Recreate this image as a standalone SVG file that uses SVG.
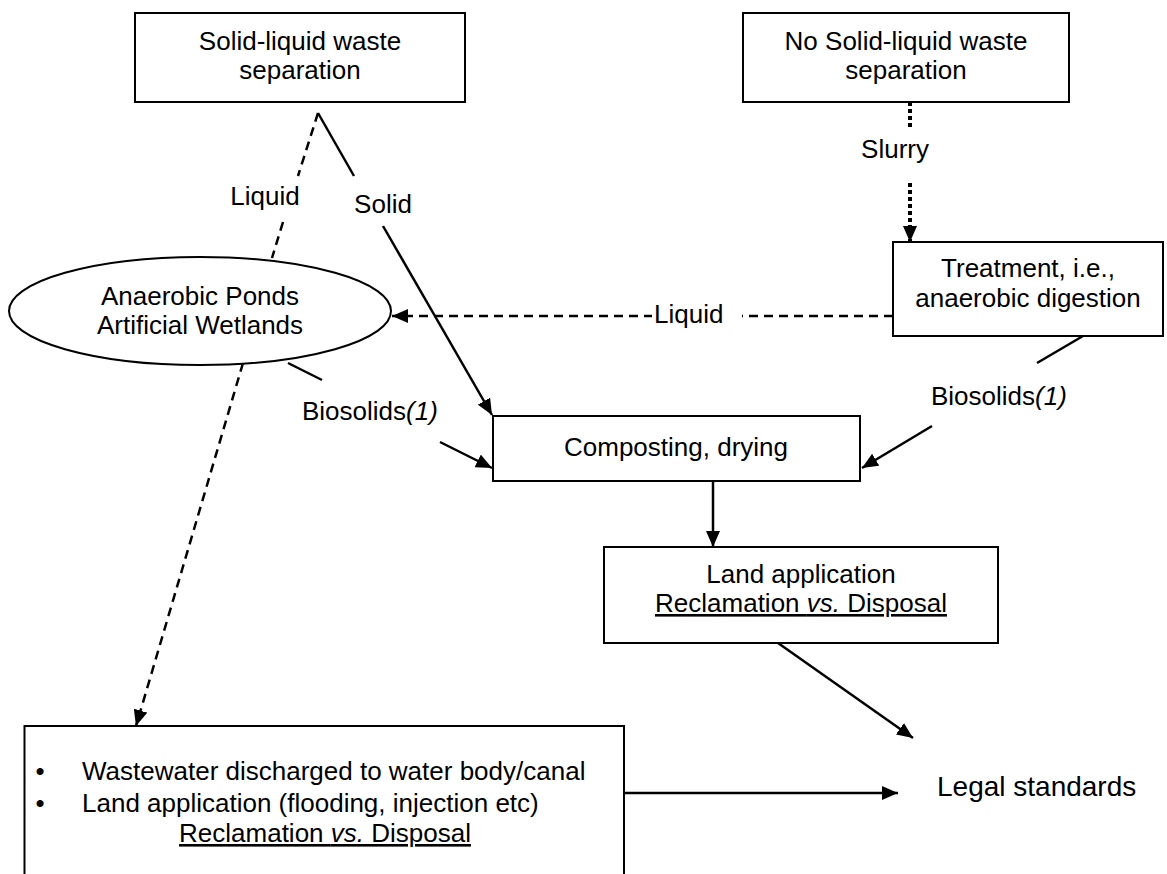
<svg xmlns="http://www.w3.org/2000/svg" width="1167" height="874" viewBox="0 0 1167 874">
<style>
text{font-family:"Liberation Sans",Arial,sans-serif;font-size:26px;fill:#000}
.c{text-anchor:middle}
.box{fill:#fff;stroke:#000;stroke-width:2}
.ln{fill:none;stroke:#000;stroke-width:2.5}
.dash{stroke-dasharray:9 6}
.dot{stroke-width:4;stroke-dasharray:4 3}
.u{text-decoration:underline}
</style>
<defs>
<marker id="ah" markerUnits="userSpaceOnUse" markerWidth="16" markerHeight="14" refX="16" refY="7" orient="auto" viewBox="0 0 16 14">
<path d="M0,0 L16,7 L0,14 z" fill="#000"/>
</marker>
</defs>
<rect width="1167" height="874" fill="#fff"/>
<g id="connectors">
<path class="ln dash" d="M318,113 L298,176 M283,222 L272,258"/>
<text x="265" y="205" class="c">Liquid</text>
<path class="ln" d="M318,113 L354,176"/>
<path class="ln" d="M383,226 L492,415" marker-end="url(#ah)"/>
<text x="383" y="213" class="c">Solid</text>
<path class="ln dot" d="M910,102 L910,128"/>
<text x="895" y="158" class="c">Slurry</text>
<path class="ln dot" d="M910,183 L910,242" marker-end="url(#ah)"/>
<path class="ln dash" d="M893,316 L392,316" marker-end="url(#ah)"/>
<rect x="652" y="298" width="90" height="34" fill="#fff"/>
<text x="654" y="323">Liquid</text>
<path class="ln" d="M288,363 L322,380"/>
<path class="ln" d="M440,442 L492,468" marker-end="url(#ah)"/>
<text x="302" y="420">Biosolids<tspan font-style="italic">(1)</tspan></text>
<path class="ln" d="M1083,336 L1037,363"/>
<path class="ln" d="M932,426 L862,468" marker-end="url(#ah)"/>
<text x="931" y="405">Biosolids<tspan font-style="italic">(1)</tspan></text>
<path class="ln dash" d="M243,363 L136,726" marker-end="url(#ah)"/>
<path class="ln" d="M713,481 L713,547" marker-end="url(#ah)"/>
<path class="ln" d="M778,643 L913,738" marker-end="url(#ah)"/>
<path class="ln" d="M624,793 L898,793" marker-end="url(#ah)"/>
</g>
<g id="node-separation">
<rect class="box" x="135" y="13" width="330" height="89"/>
<text x="300" y="50" class="c">Solid-liquid waste</text>
<text x="300" y="79" class="c">separation</text>
</g>
<g id="node-no-separation">
<rect class="box" x="743" y="13" width="326" height="89"/>
<text x="906" y="50" class="c">No Solid-liquid waste</text>
<text x="906" y="79" class="c">separation</text>
</g>
<g id="node-ponds">
<ellipse cx="200" cy="311" rx="191" ry="54" fill="#fff" stroke="#000" stroke-width="2"/>
<text x="200" y="305" class="c">Anaerobic Ponds</text>
<text x="200" y="334" class="c">Artificial Wetlands</text>
</g>
<g id="node-treatment">
<rect class="box" x="893" y="242" width="270" height="94"/>
<text x="1028" y="277" class="c">Treatment, i.e.,</text>
<text x="1028" y="307" class="c">anaerobic digestion</text>
</g>
<g id="node-composting">
<rect class="box" x="493" y="416" width="367" height="65"/>
<text x="676" y="456" class="c">Composting, drying</text>
</g>
<g id="node-land">
<rect class="box" x="604" y="547" width="394" height="96"/>
<text x="801" y="583" class="c">Land application</text>
<text x="801" y="612" class="c u">Reclamation <tspan font-style="italic">vs.</tspan> Disposal</text>
</g>
<g id="node-wastewater">
<rect class="box" x="24.5" y="726" width="599.5" height="200"/>
<text x="40" y="780" class="c">•</text>
<text x="82" y="780">Wastewater discharged to water body/canal</text>
<text x="40" y="812" class="c">•</text>
<text x="82" y="812">Land application (flooding, injection etc)</text>
<text x="325" y="842" class="c u">Reclamation <tspan font-style="italic">vs.</tspan> Disposal</text>
</g>
<g id="node-legal">
<text x="937" y="796" style="font-size:28px">Legal standards</text>
</g>
</svg>
